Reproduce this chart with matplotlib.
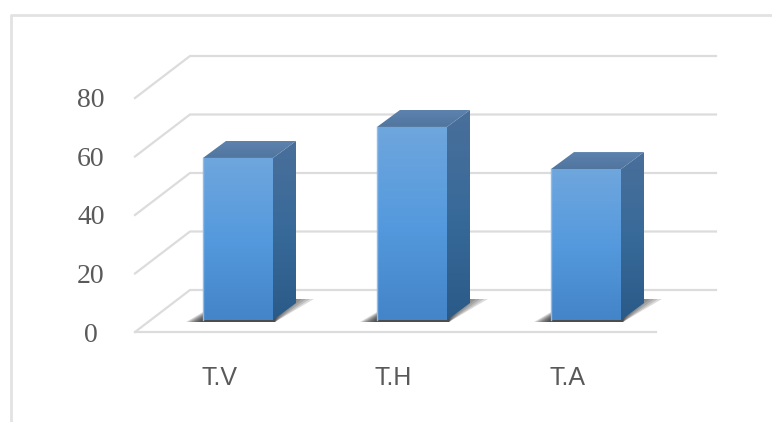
import matplotlib
matplotlib.use('Agg')
import matplotlib.pyplot as plt
from matplotlib.patches import Polygon
import numpy as np

# values
categories = ['T.V', 'T.H', 'T.A']
values = [55.4, 66, 51.6]
ticks = [0, 20, 40, 60, 80]

# fake 3d layout, px -> data scale
PX_X = 174.0
PX_Y = 2.925


def dx(px):
    return px / PX_X


def dy(px):
    return px / PX_Y


fig = plt.figure(figsize=(7.72, 4.22), dpi=100)
ax = fig.add_axes([0, 0, 1, 1])
ax.set_xlim(-238 / PX_X, (772 - 238) / PX_X)
ax.set_ylim((320 - 422) / PX_Y, 320 / PX_Y)
ax.axis('off')

grid = '#dcdcdc'
x_front = -dx(103)
x_back = -dx(48)
x_floor_end = dx(418)
x_back_end = dx(478)
y_front = -dy(12)
y_back = dy(30)

# outer frame, open on the right and bottom
ax.plot([-dx(227), -dx(227), dx(534)], [-dy(102), dy(305), dy(305)], color='#e2e2e2', lw=2, zorder=1,
        solid_capstyle='butt')

# gridlines on wall and side
for t in ticks:
    ax.plot([x_front, x_back, x_back_end], [y_front + t, y_back + t, y_back + t], color=grid, lw=1.6, zorder=1)
ax.plot([x_front, x_floor_end], [y_front, y_front], color=grid, lw=1.6, zorder=1)

# tick labels
for t in ticks:
    ax.text(-dx(147), y_front + t - dy(3), str(t), ha='center', va='center', family='Liberation Serif',
            fontsize=20, color='#5a5a5a')

front_cmap = matplotlib.colors.LinearSegmentedColormap.from_list('front', ['#6fa6dd', '#559ade', '#4484c8'])
side_cmap = matplotlib.colors.LinearSegmentedColormap.from_list('side', ['#4a6f9b', '#386a99', '#2a5a88'])
top_cmap = matplotlib.colors.LinearSegmentedColormap.from_list('top', ['#5d82ae', '#50769f'])
ramp = np.linspace(0, 1, 128).reshape(-1, 1)

half = dx(35)
depth_x = dx(23)
depth_y = dy(17)

for i, (name, v) in enumerate(zip(categories, values)):
    l, r = i - half, i + half

    # soft floor shadow, stacked from wide and faint to tight and dark
    for grow in np.linspace(1.0, 0.1, 10):
        pts = [(l - dx(17) * grow, -dy(2)), (r + dx(2), -dy(2)),
               (r + dx(41) * grow, dy(21)), (r, dy(21)), (l, dy(8) * grow)]
        ax.add_patch(Polygon(pts, closed=True, fc='#2a2a2a', ec='none', alpha=0.16, zorder=2))

    # front face
    im = ax.imshow(ramp, cmap=front_cmap, extent=(l, r, 0, v), aspect='auto', zorder=3)
    im.set_clip_path(Polygon([(l, 0), (r, 0), (r, v), (l, v)], transform=ax.transData))

    # side face
    side = Polygon([(r, 0), (r + depth_x, depth_y), (r + depth_x, v + depth_y), (r, v)], transform=ax.transData)
    im = ax.imshow(ramp, cmap=side_cmap, extent=(r, r + depth_x, 0, v + depth_y), aspect='auto', zorder=3)
    im.set_clip_path(side)

    # top face
    top = Polygon([(l, v), (r, v), (r + depth_x, v + depth_y), (l + depth_x, v + depth_y)], transform=ax.transData)
    im = ax.imshow(ramp, cmap=top_cmap, extent=(l, r + depth_x, v, v + depth_y), aspect='auto', zorder=3)
    im.set_clip_path(top)

    # lighter left edge
    ax.plot([l, l], [0, v], color='#8fbdea', lw=1, zorder=4)

    ax.text(i - dx(19), -dy(58), name, ha='center', va='center', family='Liberation Sans', fontsize=18,
            color='#595959')

ax.set_xlim(-238 / PX_X, (772 - 238) / PX_X)
ax.set_ylim((320 - 422) / PX_Y, 320 / PX_Y)
fig.savefig('out.png', dpi=100, facecolor='white')
